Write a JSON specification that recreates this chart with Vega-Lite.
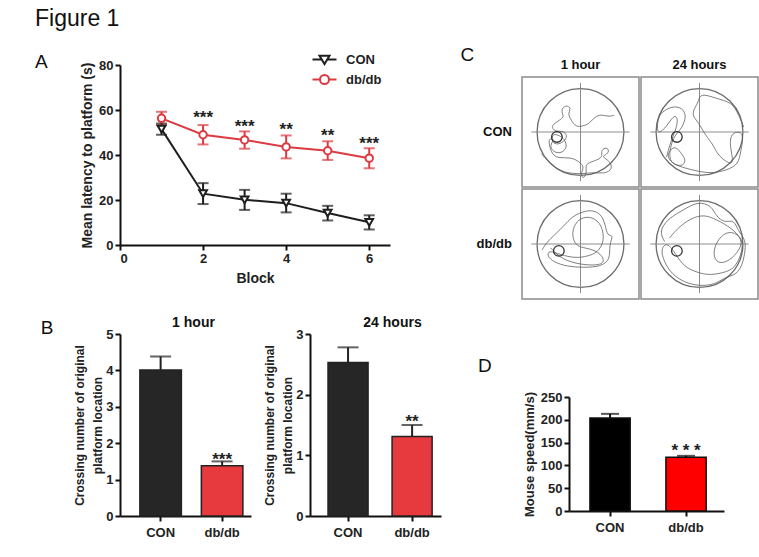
{
  "$schema": "https://vega.github.io/schema/vega-lite/v6.json",
  "background": "white",
  "padding": {"left": 35, "top": 8, "right": 0, "bottom": 0},
  "title": {"text": "Figure 1", "anchor": "start", "frame": "bounds", "fontSize": 23, "fontWeight": "normal", "font": "Liberation Sans", "color": "#111", "offset": 15},
  "config": {
    "font": "Liberation Sans",
    "view": {"stroke": null},
    "axis": {"domainColor": "#111", "domainWidth": 2, "tickColor": "#111", "tickWidth": 2, "tickSize": 5, "labelFont": "Liberation Sans", "labelFontSize": 12, "labelFontWeight": "bold", "labelColor": "#222", "labelOverlap": false, "titleFont": "Liberation Sans", "titleFontSize": 13, "titleFontWeight": "bold", "titleColor": "#222", "grid": false},
    "title": {"font": "Liberation Sans", "color": "#111"}
  },
  "datasets": {
    "latency": [
      {"block": 1, "group": "CON", "mean": 51.5, "lo": 49.0, "hi": 54.0},
      {"block": 2, "group": "CON", "mean": 22.8, "lo": 18.2, "hi": 27.5},
      {"block": 3, "group": "CON", "mean": 20.1, "lo": 15.6, "hi": 24.5},
      {"block": 4, "group": "CON", "mean": 18.6, "lo": 14.5, "hi": 22.8},
      {"block": 5, "group": "CON", "mean": 14.2, "lo": 10.9, "hi": 17.4},
      {"block": 6, "group": "CON", "mean": 10.1, "lo": 6.9, "hi": 13.2},
      {"block": 1, "group": "db/db", "mean": 56.3, "lo": 53.3, "hi": 59.2},
      {"block": 2, "group": "db/db", "mean": 49.0, "lo": 44.7, "hi": 53.3},
      {"block": 3, "group": "db/db", "mean": 46.7, "lo": 42.8, "hi": 50.5},
      {"block": 4, "group": "db/db", "mean": 43.6, "lo": 38.5, "hi": 48.7},
      {"block": 5, "group": "db/db", "mean": 41.9, "lo": 37.8, "hi": 46.1},
      {"block": 6, "group": "db/db", "mean": 38.6, "lo": 34.1, "hi": 43.0}
    ],
    "astars": [
      {"block": 2, "y": 56.5, "label": "***"},
      {"block": 3, "y": 52.5, "label": "***"},
      {"block": 4, "y": 51.0, "label": "**"},
      {"block": 5, "y": 48.5, "label": "**"},
      {"block": 6, "y": 45.0, "label": "***"}
    ],
    "b1": [{"group": "CON", "mean": 4.01, "hi": 4.38}, {"group": "db/db", "mean": 1.38, "hi": 1.5}],
    "b1s": [{"group": "db/db", "y": 1.54, "label": "***"}],
    "b2": [{"group": "CON", "mean": 2.53, "hi": 2.78}, {"group": "db/db", "mean": 1.31, "hi": 1.5}],
    "b2s": [{"group": "db/db", "y": 1.55, "label": "**"}],
    "speed": [{"group": "CON", "mean": 204, "hi": 213}, {"group": "db/db", "mean": 118, "hi": 121}],
    "speeds": [{"group": "db/db", "y": 131, "label": "* * *"}],
    "swim": [
      {"g": "CON", "t": "1 hour", "k": "a", "x": 0, "y": 0},
      {"g": "CON", "t": "24 hours", "k": "a", "x": 0, "y": 0},
      {"g": "db/db", "t": "1 hour", "k": "a", "x": 0, "y": 0},
      {"g": "db/db", "t": "24 hours", "k": "a", "x": 0, "y": 0},
      {"g": "CON", "t": "1 hour", "k": "c", "x": -1, "y": 0, "x2": 1, "y2": 0},
      {"g": "CON", "t": "1 hour", "k": "c", "x": 0, "y": -1, "x2": 0, "y2": 1},
      {"g": "CON", "t": "24 hours", "k": "c", "x": -1, "y": 0, "x2": 1, "y2": 0},
      {"g": "CON", "t": "24 hours", "k": "c", "x": 0, "y": -1, "x2": 0, "y2": 1},
      {"g": "db/db", "t": "1 hour", "k": "c", "x": -1, "y": 0, "x2": 1, "y2": 0},
      {"g": "db/db", "t": "1 hour", "k": "c", "x": 0, "y": -1, "x2": 0, "y2": 1},
      {"g": "db/db", "t": "24 hours", "k": "c", "x": -1, "y": 0, "x2": 1, "y2": 0},
      {"g": "db/db", "t": "24 hours", "k": "c", "x": 0, "y": -1, "x2": 0, "y2": 1},
      {"g": "CON", "t": "1 hour", "k": "f", "x": -0.48, "y": -0.1},
      {"g": "CON", "t": "24 hours", "k": "f", "x": -0.46, "y": -0.1},
      {"g": "db/db", "t": "1 hour", "k": "f", "x": -0.44, "y": -0.14},
      {"g": "db/db", "t": "24 hours", "k": "f", "x": -0.46, "y": -0.14},
      {"g": "CON", "t": "1 hour", "k": "p", "i": 1, "x": 0.69, "y": 0.34},
      {"g": "CON", "t": "1 hour", "k": "p", "i": 2, "x": 0.56, "y": 0.31},
      {"g": "CON", "t": "1 hour", "k": "p", "i": 3, "x": 0.42, "y": 0.36},
      {"g": "CON", "t": "1 hour", "k": "p", "i": 4, "x": 0.29, "y": 0.31},
      {"g": "CON", "t": "1 hour", "k": "p", "i": 5, "x": 0.18, "y": 0.17},
      {"g": "CON", "t": "1 hour", "k": "p", "i": 6, "x": 0.05, "y": 0.12},
      {"g": "CON", "t": "1 hour", "k": "p", "i": 7, "x": -0.09, "y": 0.1},
      {"g": "CON", "t": "1 hour", "k": "p", "i": 8, "x": -0.19, "y": 0.24},
      {"g": "CON", "t": "1 hour", "k": "p", "i": 9, "x": -0.26, "y": 0.37},
      {"g": "CON", "t": "1 hour", "k": "p", "i": 10, "x": -0.19, "y": 0.48},
      {"g": "CON", "t": "1 hour", "k": "p", "i": 11, "x": -0.26, "y": 0.54},
      {"g": "CON", "t": "1 hour", "k": "p", "i": 12, "x": -0.36, "y": 0.51},
      {"g": "CON", "t": "1 hour", "k": "p", "i": 13, "x": -0.39, "y": 0.41},
      {"g": "CON", "t": "1 hour", "k": "p", "i": 14, "x": -0.33, "y": 0.31},
      {"g": "CON", "t": "1 hour", "k": "p", "i": 15, "x": -0.43, "y": 0.24},
      {"g": "CON", "t": "1 hour", "k": "p", "i": 16, "x": -0.53, "y": 0.17},
      {"g": "CON", "t": "1 hour", "k": "p", "i": 17, "x": -0.6, "y": 0.1},
      {"g": "CON", "t": "1 hour", "k": "p", "i": 18, "x": -0.5, "y": 0.0},
      {"g": "CON", "t": "1 hour", "k": "p", "i": 19, "x": -0.36, "y": 0.03},
      {"g": "CON", "t": "1 hour", "k": "p", "i": 20, "x": -0.26, "y": -0.07},
      {"g": "CON", "t": "1 hour", "k": "p", "i": 21, "x": -0.33, "y": -0.2},
      {"g": "CON", "t": "1 hour", "k": "p", "i": 22, "x": -0.5, "y": -0.27},
      {"g": "CON", "t": "1 hour", "k": "p", "i": 23, "x": -0.6, "y": -0.17},
      {"g": "CON", "t": "1 hour", "k": "p", "i": 24, "x": -0.56, "y": -0.03},
      {"g": "CON", "t": "1 hour", "k": "p", "i": 25, "x": -0.43, "y": -0.07},
      {"g": "CON", "t": "1 hour", "k": "p", "i": 26, "x": -0.33, "y": -0.14},
      {"g": "CON", "t": "1 hour", "k": "p", "i": 27, "x": -0.26, "y": -0.31},
      {"g": "CON", "t": "1 hour", "k": "p", "i": 28, "x": -0.39, "y": -0.44},
      {"g": "CON", "t": "1 hour", "k": "p", "i": 29, "x": -0.56, "y": -0.41},
      {"g": "CON", "t": "1 hour", "k": "p", "i": 30, "x": -0.63, "y": -0.27},
      {"g": "CON", "t": "1 hour", "k": "p", "i": 31, "x": -0.53, "y": -0.17},
      {"g": "CON", "t": "1 hour", "k": "p", "i": 32, "x": -0.67, "y": -0.1},
      {"g": "CON", "t": "1 hour", "k": "p", "i": 33, "x": -0.6, "y": -0.44},
      {"g": "CON", "t": "1 hour", "k": "p", "i": 34, "x": -0.46, "y": -0.54},
      {"g": "CON", "t": "1 hour", "k": "p", "i": 35, "x": -0.19, "y": -0.51},
      {"g": "CON", "t": "1 hour", "k": "p", "i": 36, "x": -0.02, "y": -0.61},
      {"g": "CON", "t": "1 hour", "k": "p", "i": 37, "x": 0.08, "y": -0.71},
      {"g": "CON", "t": "1 hour", "k": "p", "i": 38, "x": 0.0, "y": -0.85},
      {"g": "CON", "t": "1 hour", "k": "p", "i": 39, "x": 0.05, "y": -0.97},
      {"g": "CON", "t": "1 hour", "k": "p", "i": 40, "x": 0.14, "y": -0.82},
      {"g": "CON", "t": "1 hour", "k": "p", "i": 41, "x": 0.08, "y": -0.65},
      {"g": "CON", "t": "1 hour", "k": "p", "i": 42, "x": 0.29, "y": -0.59},
      {"g": "CON", "t": "1 hour", "k": "p", "i": 43, "x": 0.46, "y": -0.51},
      {"g": "CON", "t": "1 hour", "k": "p", "i": 44, "x": 0.41, "y": -0.39},
      {"g": "CON", "t": "1 hour", "k": "p", "i": 45, "x": 0.5, "y": -0.31},
      {"g": "CON", "t": "1 hour", "k": "p", "i": 46, "x": 0.59, "y": -0.36},
      {"g": "CON", "t": "1 hour", "k": "p", "i": 47, "x": 0.54, "y": -0.46},
      {"g": "CON", "t": "1 hour", "k": "p", "i": 48, "x": 0.42, "y": -0.5},
      {"g": "CON", "t": "1 hour", "k": "p", "i": 49, "x": 0.59, "y": -0.58},
      {"g": "CON", "t": "1 hour", "k": "p", "i": 50, "x": 0.66, "y": -0.75},
      {"g": "CON", "t": "1 hour", "k": "p", "i": 51, "x": 0.5, "y": -0.85},
      {"g": "CON", "t": "1 hour", "k": "p", "i": 52, "x": 0.29, "y": -0.82},
      {"g": "CON", "t": "1 hour", "k": "p", "i": 53, "x": 0.08, "y": -0.85},
      {"g": "CON", "t": "1 hour", "k": "p", "i": 54, "x": -0.19, "y": -0.85},
      {"g": "CON", "t": "1 hour", "k": "p", "i": 55, "x": -0.46, "y": -0.78},
      {"g": "CON", "t": "1 hour", "k": "p", "i": 56, "x": -0.67, "y": -0.58},
      {"g": "CON", "t": "1 hour", "k": "p", "i": 57, "x": -0.8, "y": -0.44},
      {"g": "CON", "t": "24 hours", "k": "p", "i": 1, "x": 0.9, "y": 0.1},
      {"g": "CON", "t": "24 hours", "k": "p", "i": 2, "x": 0.76, "y": 0.44},
      {"g": "CON", "t": "24 hours", "k": "p", "i": 3, "x": 0.63, "y": 0.61},
      {"g": "CON", "t": "24 hours", "k": "p", "i": 4, "x": 0.35, "y": 0.68},
      {"g": "CON", "t": "24 hours", "k": "p", "i": 5, "x": 0.01, "y": 0.8},
      {"g": "CON", "t": "24 hours", "k": "p", "i": 6, "x": -0.02, "y": 0.61},
      {"g": "CON", "t": "24 hours", "k": "p", "i": 7, "x": -0.09, "y": 0.51},
      {"g": "CON", "t": "24 hours", "k": "p", "i": 8, "x": -0.16, "y": 0.34},
      {"g": "CON", "t": "24 hours", "k": "p", "i": 9, "x": -0.02, "y": 0.2},
      {"g": "CON", "t": "24 hours", "k": "p", "i": 10, "x": 0.12, "y": -0.07},
      {"g": "CON", "t": "24 hours", "k": "p", "i": 11, "x": 0.29, "y": -0.27},
      {"g": "CON", "t": "24 hours", "k": "p", "i": 12, "x": 0.35, "y": -0.44},
      {"g": "CON", "t": "24 hours", "k": "p", "i": 13, "x": 0.56, "y": -0.63},
      {"g": "CON", "t": "24 hours", "k": "p", "i": 14, "x": 0.71, "y": -0.65},
      {"g": "CON", "t": "24 hours", "k": "p", "i": 15, "x": 0.61, "y": -0.27},
      {"g": "CON", "t": "24 hours", "k": "p", "i": 16, "x": 0.64, "y": 0.0},
      {"g": "CON", "t": "24 hours", "k": "p", "i": 17, "x": 0.93, "y": 0.02},
      {"g": "CON", "t": "24 hours", "k": "p", "i": 18, "x": 0.83, "y": -0.41},
      {"g": "CON", "t": "24 hours", "k": "p", "i": 19, "x": 0.8, "y": -0.65},
      {"g": "CON", "t": "24 hours", "k": "p", "i": 20, "x": 0.56, "y": -0.78},
      {"g": "CON", "t": "24 hours", "k": "p", "i": 21, "x": 0.22, "y": -0.85},
      {"g": "CON", "t": "24 hours", "k": "p", "i": 22, "x": -0.12, "y": -0.78},
      {"g": "CON", "t": "24 hours", "k": "p", "i": 23, "x": -0.39, "y": -0.71},
      {"g": "CON", "t": "24 hours", "k": "p", "i": 24, "x": -0.6, "y": -0.61},
      {"g": "CON", "t": "24 hours", "k": "p", "i": 25, "x": -0.67, "y": -0.44},
      {"g": "CON", "t": "24 hours", "k": "p", "i": 26, "x": -0.5, "y": -0.27},
      {"g": "CON", "t": "24 hours", "k": "p", "i": 27, "x": -0.39, "y": -0.41},
      {"g": "CON", "t": "24 hours", "k": "p", "i": 28, "x": -0.26, "y": -0.58},
      {"g": "CON", "t": "24 hours", "k": "p", "i": 29, "x": -0.36, "y": -0.71},
      {"g": "CON", "t": "24 hours", "k": "p", "i": 30, "x": -0.56, "y": -0.65},
      {"g": "CON", "t": "24 hours", "k": "p", "i": 31, "x": -0.63, "y": -0.48},
      {"g": "CON", "t": "24 hours", "k": "p", "i": 32, "x": -0.54, "y": -0.1},
      {"g": "CON", "t": "24 hours", "k": "p", "i": 33, "x": -0.39, "y": 0.03},
      {"g": "CON", "t": "24 hours", "k": "p", "i": 34, "x": -0.27, "y": 0.27},
      {"g": "CON", "t": "24 hours", "k": "p", "i": 35, "x": -0.31, "y": 0.46},
      {"g": "CON", "t": "24 hours", "k": "p", "i": 36, "x": -0.5, "y": 0.54},
      {"g": "CON", "t": "24 hours", "k": "p", "i": 37, "x": -0.73, "y": 0.44},
      {"g": "CON", "t": "24 hours", "k": "p", "i": 38, "x": -0.84, "y": 0.31},
      {"g": "CON", "t": "24 hours", "k": "p", "i": 39, "x": -0.87, "y": 0.03},
      {"g": "CON", "t": "24 hours", "k": "p", "i": 40, "x": -0.8, "y": -0.03},
      {"g": "CON", "t": "24 hours", "k": "p", "i": 41, "x": -0.63, "y": 0.17},
      {"g": "CON", "t": "24 hours", "k": "p", "i": 42, "x": -0.5, "y": 0.37},
      {"g": "CON", "t": "24 hours", "k": "p", "i": 43, "x": -0.43, "y": 0.24},
      {"g": "CON", "t": "24 hours", "k": "p", "i": 44, "x": -0.5, "y": 0.0},
      {"g": "CON", "t": "24 hours", "k": "p", "i": 45, "x": -0.6, "y": -0.24},
      {"g": "CON", "t": "24 hours", "k": "p", "i": 46, "x": -0.67, "y": -0.51},
      {"g": "db/db", "t": "1 hour", "k": "p", "i": 1, "x": -0.78, "y": -0.12},
      {"g": "db/db", "t": "1 hour", "k": "p", "i": 2, "x": -0.68, "y": 0.05},
      {"g": "db/db", "t": "1 hour", "k": "p", "i": 3, "x": -0.41, "y": 0.29},
      {"g": "db/db", "t": "1 hour", "k": "p", "i": 4, "x": -0.2, "y": 0.53},
      {"g": "db/db", "t": "1 hour", "k": "p", "i": 5, "x": -0.03, "y": 0.63},
      {"g": "db/db", "t": "1 hour", "k": "p", "i": 6, "x": 0.2, "y": 0.7},
      {"g": "db/db", "t": "1 hour", "k": "p", "i": 7, "x": 0.41, "y": 0.63},
      {"g": "db/db", "t": "1 hour", "k": "p", "i": 8, "x": 0.51, "y": 0.39},
      {"g": "db/db", "t": "1 hour", "k": "p", "i": 9, "x": 0.54, "y": 0.16},
      {"g": "db/db", "t": "1 hour", "k": "p", "i": 10, "x": 0.68, "y": 0.19},
      {"g": "db/db", "t": "1 hour", "k": "p", "i": 11, "x": 0.58, "y": -0.01},
      {"g": "db/db", "t": "1 hour", "k": "p", "i": 12, "x": 0.61, "y": -0.32},
      {"g": "db/db", "t": "1 hour", "k": "p", "i": 13, "x": 0.41, "y": -0.46},
      {"g": "db/db", "t": "1 hour", "k": "p", "i": 14, "x": 0.07, "y": -0.48},
      {"g": "db/db", "t": "1 hour", "k": "p", "i": 15, "x": -0.27, "y": -0.46},
      {"g": "db/db", "t": "1 hour", "k": "p", "i": 16, "x": -0.54, "y": -0.37},
      {"g": "db/db", "t": "1 hour", "k": "p", "i": 17, "x": -0.68, "y": -0.25},
      {"g": "db/db", "t": "1 hour", "k": "p", "i": 18, "x": -0.65, "y": -0.12},
      {"g": "db/db", "t": "1 hour", "k": "p", "i": 19, "x": -0.41, "y": -0.22},
      {"g": "db/db", "t": "1 hour", "k": "p", "i": 20, "x": -0.1, "y": -0.29},
      {"g": "db/db", "t": "1 hour", "k": "p", "i": 21, "x": 0.14, "y": -0.25},
      {"g": "db/db", "t": "1 hour", "k": "p", "i": 22, "x": 0.34, "y": -0.18},
      {"g": "db/db", "t": "1 hour", "k": "p", "i": 23, "x": 0.49, "y": 0.05},
      {"g": "db/db", "t": "1 hour", "k": "p", "i": 24, "x": 0.44, "y": 0.39},
      {"g": "db/db", "t": "1 hour", "k": "p", "i": 25, "x": 0.24, "y": 0.56},
      {"g": "db/db", "t": "1 hour", "k": "p", "i": 26, "x": 0.0, "y": 0.54},
      {"g": "db/db", "t": "1 hour", "k": "p", "i": 27, "x": -0.15, "y": 0.36},
      {"g": "db/db", "t": "1 hour", "k": "p", "i": 28, "x": -0.17, "y": 0.12},
      {"g": "db/db", "t": "1 hour", "k": "p", "i": 29, "x": -0.07, "y": -0.05},
      {"g": "db/db", "t": "1 hour", "k": "p", "i": 30, "x": 0.1, "y": -0.08},
      {"g": "db/db", "t": "1 hour", "k": "p", "i": 31, "x": 0.37, "y": -0.15},
      {"g": "db/db", "t": "1 hour", "k": "p", "i": 32, "x": 0.51, "y": -0.35},
      {"g": "db/db", "t": "1 hour", "k": "p", "i": 33, "x": 0.37, "y": -0.44},
      {"g": "db/db", "t": "1 hour", "k": "p", "i": 34, "x": 0.0, "y": -0.42},
      {"g": "db/db", "t": "1 hour", "k": "p", "i": 35, "x": -0.37, "y": -0.32},
      {"g": "db/db", "t": "1 hour", "k": "p", "i": 36, "x": -0.61, "y": -0.08},
      {"g": "db/db", "t": "24 hours", "k": "p", "i": 1, "x": -0.71, "y": 0.05},
      {"g": "db/db", "t": "24 hours", "k": "p", "i": 2, "x": -0.82, "y": 0.26},
      {"g": "db/db", "t": "24 hours", "k": "p", "i": 3, "x": -0.65, "y": 0.5},
      {"g": "db/db", "t": "24 hours", "k": "p", "i": 4, "x": -0.44, "y": 0.63},
      {"g": "db/db", "t": "24 hours", "k": "p", "i": 5, "x": -0.27, "y": 0.73},
      {"g": "db/db", "t": "24 hours", "k": "p", "i": 6, "x": -0.03, "y": 0.86},
      {"g": "db/db", "t": "24 hours", "k": "p", "i": 7, "x": 0.24, "y": 0.79},
      {"g": "db/db", "t": "24 hours", "k": "p", "i": 8, "x": 0.34, "y": 0.56},
      {"g": "db/db", "t": "24 hours", "k": "p", "i": 9, "x": 0.51, "y": 0.43},
      {"g": "db/db", "t": "24 hours", "k": "p", "i": 10, "x": 0.71, "y": 0.5},
      {"g": "db/db", "t": "24 hours", "k": "p", "i": 11, "x": 0.78, "y": 0.26},
      {"g": "db/db", "t": "24 hours", "k": "p", "i": 12, "x": 0.95, "y": 0.09},
      {"g": "db/db", "t": "24 hours", "k": "p", "i": 13, "x": 0.92, "y": -0.22},
      {"g": "db/db", "t": "24 hours", "k": "p", "i": 14, "x": 0.85, "y": -0.49},
      {"g": "db/db", "t": "24 hours", "k": "p", "i": 15, "x": 0.71, "y": -0.64},
      {"g": "db/db", "t": "24 hours", "k": "p", "i": 16, "x": 0.51, "y": -0.68},
      {"g": "db/db", "t": "24 hours", "k": "p", "i": 17, "x": 0.31, "y": -0.83},
      {"g": "db/db", "t": "24 hours", "k": "p", "i": 18, "x": -0.03, "y": -0.86},
      {"g": "db/db", "t": "24 hours", "k": "p", "i": 19, "x": -0.37, "y": -0.76},
      {"g": "db/db", "t": "24 hours", "k": "p", "i": 20, "x": -0.61, "y": -0.56},
      {"g": "db/db", "t": "24 hours", "k": "p", "i": 21, "x": -0.75, "y": -0.29},
      {"g": "db/db", "t": "24 hours", "k": "p", "i": 22, "x": -0.78, "y": -0.08},
      {"g": "db/db", "t": "24 hours", "k": "p", "i": 23, "x": -0.65, "y": 0.04},
      {"g": "db/db", "t": "24 hours", "k": "p", "i": 24, "x": -0.48, "y": -0.22},
      {"g": "db/db", "t": "24 hours", "k": "p", "i": 25, "x": -0.31, "y": -0.46},
      {"g": "db/db", "t": "24 hours", "k": "p", "i": 26, "x": -0.1, "y": -0.56},
      {"g": "db/db", "t": "24 hours", "k": "p", "i": 27, "x": 0.17, "y": -0.64},
      {"g": "db/db", "t": "24 hours", "k": "p", "i": 28, "x": 0.48, "y": -0.59},
      {"g": "db/db", "t": "24 hours", "k": "p", "i": 29, "x": 0.75, "y": -0.49},
      {"g": "db/db", "t": "24 hours", "k": "p", "i": 30, "x": 0.92, "y": -0.01},
      {"g": "db/db", "t": "24 hours", "k": "p", "i": 31, "x": 0.78, "y": 0.22},
      {"g": "db/db", "t": "24 hours", "k": "p", "i": 32, "x": 0.54, "y": 0.26},
      {"g": "db/db", "t": "24 hours", "k": "p", "i": 33, "x": 0.34, "y": 0.05},
      {"g": "db/db", "t": "24 hours", "k": "p", "i": 34, "x": 0.27, "y": -0.22},
      {"g": "db/db", "t": "24 hours", "k": "p", "i": 35, "x": 0.37, "y": -0.41},
      {"g": "db/db", "t": "24 hours", "k": "p", "i": 36, "x": 0.61, "y": -0.35},
      {"g": "db/db", "t": "24 hours", "k": "p", "i": 37, "x": 0.82, "y": -0.12},
      {"g": "db/db", "t": "24 hours", "k": "p", "i": 38, "x": 0.88, "y": 0.09},
      {"g": "db/db", "t": "24 hours", "k": "p", "i": 39, "x": 0.65, "y": 0.33},
      {"g": "db/db", "t": "24 hours", "k": "p", "i": 40, "x": 0.34, "y": 0.5},
      {"g": "db/db", "t": "24 hours", "k": "p", "i": 41, "x": 0.1, "y": 0.6},
      {"g": "db/db", "t": "24 hours", "k": "p", "i": 42, "x": -0.17, "y": 0.53},
      {"g": "db/db", "t": "24 hours", "k": "p", "i": 43, "x": -0.44, "y": 0.33},
      {"g": "db/db", "t": "24 hours", "k": "p", "i": 44, "x": -0.61, "y": 0.12}
    ]
  },
  "spacing": 19,
  "resolve": {"scale": {"color": "independent"}},
  "hconcat": [
    {
      "spacing": 31,
      "resolve": {"scale": {"color": "independent"}},
      "vconcat": [
        {
          "width": 270,
          "height": 180,
          "title": {"text": "A", "anchor": "start", "frame": "group", "dx": -85, "offset": -34, "fontSize": 19, "fontWeight": "normal", "baseline": "alphabetic"},
          "data": {"name": "latency"},
          "encoding": {
            "x": {"field": "block", "type": "quantitative", "title": "Block", "scale": {"domain": [0, 6.5], "nice": false}, "axis": {"values": [0, 2, 4, 6], "format": "d", "labelFontSize": 13, "titleFontSize": 14, "titlePadding": 6}}
          },
          "layer": [
            {
              "mark": {"type": "line", "strokeWidth": 2},
              "encoding": {
                "y": {"field": "mean", "type": "quantitative", "title": "Mean latency to platform (s)", "scale": {"domain": [0, 80]}, "axis": {"values": [0, 20, 40, 60, 80], "format": "d", "labelFontSize": 13, "titleFontSize": 14}},
                "color": {"field": "group", "type": "nominal", "scale": {"domain": ["CON", "db/db"], "range": ["#1e1e1e", "#dc3a40"]},
                  "legend": {"orient": "none", "legendX": 198, "legendY": -12, "title": null, "padding": 0, "labelFont": "Liberation Sans", "labelFontSize": 13, "labelFontWeight": "bold", "labelColor": "#222", "labelOffset": 15, "symbolSize": 100, "symbolStrokeWidth": 2, "symbolFillColor": "white", "rowPadding": 3,
                    "encode": {"symbols": {"update": {"shape": {"signal": "datum.value === 'CON' ? 'M-2.4,0H-0.55M0.55,0H2.4M-1,-0.75L1,-0.75L0,0.9Z' : 'M-2.4,0H-0.9M0.9,0H2.4M0.9,0A0.9,0.9 0 1,1 -0.9,0A0.9,0.9 0 1,1 0.9,0Z'"}, "fill": {"value": "white"}, "fillOpacity": {"value": 0}, "strokeWidth": {"value": 2}}}}}}
              }
            },
            {
              "mark": {"type": "rule", "strokeWidth": 2},
              "encoding": {
                "y": {"field": "lo", "type": "quantitative", "title": "Mean latency to platform (s)", "scale": {"domain": [0, 80]}, "axis": {"values": [0, 20, 40, 60, 80], "format": "d", "labelFontSize": 13, "titleFontSize": 14}},
                "y2": {"field": "hi"},
                "color": {"field": "group", "type": "nominal", "legend": null}
              }
            },
            {
              "mark": {"type": "tick", "orient": "horizontal", "size": 11, "thickness": 2},
              "encoding": {
                "y": {"field": "lo", "type": "quantitative", "title": "Mean latency to platform (s)", "scale": {"domain": [0, 80]}, "axis": {"values": [0, 20, 40, 60, 80], "format": "d", "labelFontSize": 13, "titleFontSize": 14}},
                "color": {"field": "group", "type": "nominal", "legend": null}
              }
            },
            {
              "mark": {"type": "tick", "orient": "horizontal", "size": 11, "thickness": 2},
              "encoding": {
                "y": {"field": "hi", "type": "quantitative", "title": "Mean latency to platform (s)", "scale": {"domain": [0, 80]}, "axis": {"values": [0, 20, 40, 60, 80], "format": "d", "labelFontSize": 13, "titleFontSize": 14}},
                "color": {"field": "group", "type": "nominal", "legend": null}
              }
            },
            {
              "transform": [{"filter": "datum.group === 'CON'"}],
              "mark": {"type": "point", "shape": "triangle-down", "filled": true, "fill": "white", "stroke": "#1e1e1e", "strokeWidth": 2, "size": 60, "opacity": 1},
              "encoding": {
                "y": {"field": "mean", "type": "quantitative", "title": "Mean latency to platform (s)", "scale": {"domain": [0, 80]}, "axis": {"values": [0, 20, 40, 60, 80], "format": "d", "labelFontSize": 13, "titleFontSize": 14}}
              }
            },
            {
              "transform": [{"filter": "datum.group === 'db/db'"}],
              "mark": {"type": "point", "shape": "circle", "filled": true, "fill": "white", "stroke": "#dc3a40", "strokeWidth": 2, "size": 55, "opacity": 1},
              "encoding": {
                "y": {"field": "mean", "type": "quantitative", "title": "Mean latency to platform (s)", "scale": {"domain": [0, 80]}, "axis": {"values": [0, 20, 40, 60, 80], "format": "d", "labelFontSize": 13, "titleFontSize": 14}}
              }
            },
            {
              "data": {"name": "astars"},
              "mark": {"type": "text", "fontSize": 17, "fontWeight": "bold", "color": "#222", "baseline": "middle"},
              "encoding": {
                "y": {"field": "y", "type": "quantitative", "title": "Mean latency to platform (s)", "scale": {"domain": [0, 80]}, "axis": {"values": [0, 20, 40, 60, 80], "format": "d", "labelFontSize": 13, "titleFontSize": 14}},
                "text": {"field": "label"}
              }
            }
          ]
        },
        {
          "title": {"text": "B", "anchor": "start", "frame": "bounds", "fontSize": 19, "fontWeight": "normal", "offset": -37, "dx": -33, "baseline": "alphabetic"},
          "spacing": 12,
          "resolve": {"scale": {"color": "independent"}},
          "hconcat": [
            {
              "width": 131,
              "height": 182,
              "title": {"text": "1 hour", "fontSize": 14, "fontWeight": "bold", "anchor": "middle", "dx": 8, "offset": -2},
              "data": {"name": "b1"},
              "encoding": {
                "x": {"field": "group", "type": "nominal", "title": null, "scale": {"domain": ["CON", "db/db"], "paddingInner": 0.325, "paddingOuter": 0.2275, "align": 0.71}, "axis": {"labelAngle": 0, "labelPadding": 5, "labelFontSize": 13}}
              },
              "layer": [
                {
                  "mark": {"type": "bar", "stroke": "#222", "strokeWidth": 1.5},
                  "encoding": {
                    "y": {"field": "mean", "type": "quantitative", "title": ["Crossing number of original", "platform location"], "scale": {"domain": [0, 5]}, "axis": {"values": [0, 1, 2, 3, 4, 5], "format": "d", "labelFontSize": 13, "titleFontSize": 12, "titleLineHeight": 18, "titlePadding": 1}},
                    "color": {"field": "group", "type": "nominal", "scale": {"domain": ["CON", "db/db"], "range": ["#262626", "#e63a3e"]}, "legend": null}
                  }
                },
                {
                  "mark": {"type": "rule", "color": "#222", "strokeWidth": 2},
                  "encoding": {"y": {"field": "mean", "type": "quantitative", "title": ["Crossing number of original", "platform location"], "scale": {"domain": [0, 5]}, "axis": {"values": [0, 1, 2, 3, 4, 5], "format": "d", "labelFontSize": 13, "titleFontSize": 12, "titleLineHeight": 18, "titlePadding": 1}}, "y2": {"field": "hi"}}
                },
                {
                  "mark": {"type": "tick", "orient": "horizontal", "size": 21, "thickness": 2, "color": "#222"},
                  "encoding": {"y": {"field": "hi", "type": "quantitative", "title": ["Crossing number of original", "platform location"], "scale": {"domain": [0, 5]}, "axis": {"values": [0, 1, 2, 3, 4, 5], "format": "d", "labelFontSize": 13, "titleFontSize": 12, "titleLineHeight": 18, "titlePadding": 1}}}
                },
                {
                  "data": {"name": "b1s"},
                  "mark": {"type": "text", "fontSize": 17, "fontWeight": "bold", "color": "#222", "baseline": "middle"},
                  "encoding": {"y": {"field": "y", "type": "quantitative", "title": ["Crossing number of original", "platform location"], "scale": {"domain": [0, 5]}, "axis": {"values": [0, 1, 2, 3, 4, 5], "format": "d", "labelFontSize": 13, "titleFontSize": 12, "titleLineHeight": 18, "titlePadding": 1}}, "text": {"field": "label"}}
                }
              ]
            },
            {
              "width": 131,
              "height": 182,
              "title": {"text": "24 hours", "fontSize": 14, "fontWeight": "bold", "anchor": "middle", "dx": 17, "offset": -2},
              "data": {"name": "b2"},
              "encoding": {
                "x": {"field": "group", "type": "nominal", "title": null, "scale": {"domain": ["CON", "db/db"], "paddingInner": 0.375, "paddingOuter": 0.21, "align": 0.67}, "axis": {"labelAngle": 0, "labelPadding": 5, "labelFontSize": 13}}
              },
              "layer": [
                {
                  "mark": {"type": "bar", "stroke": "#222", "strokeWidth": 1.5},
                  "encoding": {
                    "y": {"field": "mean", "type": "quantitative", "title": ["Crossing number of original", "platform location"], "scale": {"domain": [0, 3]}, "axis": {"values": [0, 1, 2, 3], "format": "d", "labelFontSize": 13, "titleFontSize": 12, "titleLineHeight": 18, "titlePadding": 1}},
                    "color": {"field": "group", "type": "nominal", "scale": {"domain": ["CON", "db/db"], "range": ["#262626", "#e63a3e"]}, "legend": null}
                  }
                },
                {
                  "mark": {"type": "rule", "color": "#222", "strokeWidth": 2},
                  "encoding": {"y": {"field": "mean", "type": "quantitative", "title": ["Crossing number of original", "platform location"], "scale": {"domain": [0, 3]}, "axis": {"values": [0, 1, 2, 3], "format": "d", "labelFontSize": 13, "titleFontSize": 12, "titleLineHeight": 18, "titlePadding": 1}}, "y2": {"field": "hi"}}
                },
                {
                  "mark": {"type": "tick", "orient": "horizontal", "size": 21, "thickness": 2, "color": "#222"},
                  "encoding": {"y": {"field": "hi", "type": "quantitative", "title": ["Crossing number of original", "platform location"], "scale": {"domain": [0, 3]}, "axis": {"values": [0, 1, 2, 3], "format": "d", "labelFontSize": 13, "titleFontSize": 12, "titleLineHeight": 18, "titlePadding": 1}}}
                },
                {
                  "data": {"name": "b2s"},
                  "mark": {"type": "text", "fontSize": 17, "fontWeight": "bold", "color": "#222", "baseline": "middle"},
                  "encoding": {"y": {"field": "y", "type": "quantitative", "title": ["Crossing number of original", "platform location"], "scale": {"domain": [0, 3]}, "axis": {"values": [0, 1, 2, 3], "format": "d", "labelFontSize": 13, "titleFontSize": 12, "titleLineHeight": 18, "titlePadding": 1}}, "text": {"field": "label"}}
                }
              ]
            }
          ]
        }
      ]
    },
    {
      "spacing": -20,
      "resolve": {"scale": {"color": "independent"}},
      "vconcat": [
        {"width": 1, "height": 1, "data": {"values": []}, "mark": "point", "encoding": {}},
        {
          "spacing": 57,
          "resolve": {"scale": {"color": "independent"}},
          "vconcat": [
            {
              "data": {"name": "swim"},
              "title": {"text": "C", "anchor": "start", "frame": "bounds", "fontSize": 19, "fontWeight": "normal", "dx": -16, "offset": -6},
              "spacing": 0,
              "facet": {
                "column": {"field": "t", "type": "nominal", "sort": ["1 hour", "24 hours"], "header": {"title": null, "labelFontSize": 13, "labelFontWeight": "bold", "labelFont": "Liberation Sans", "labelColor": "#111", "labelPadding": 4}},
                "row": {"field": "g", "type": "nominal", "sort": ["CON", "db/db"], "header": {"title": null, "labelAngle": 0, "labelAlign": "left", "labelBaseline": "middle", "labelOrient": "left", "labelFontSize": 13, "labelFontWeight": "bold", "labelFont": "Liberation Sans", "labelColor": "#111", "labelPadding": 9}}
              },
              "spec": {
                "width": 117,
                "height": 110,
                "view": {"stroke": "#8a8a8a", "strokeWidth": 1.5},
                "layer": [
                  {
                    "transform": [{"filter": "datum.k === 'a'"}],
                    "mark": {"type": "point", "shape": "circle", "size": 7543, "filled": false, "stroke": "#6b6b6b", "strokeWidth": 1.3, "opacity": 1},
                    "encoding": {
                      "x": {"field": "x", "type": "quantitative", "scale": {"domain": [-1.19, 1.19], "nice": false, "zero": false}, "axis": null},
                      "y": {"field": "y", "type": "quantitative", "scale": {"domain": [-1.12, 1.12], "nice": false, "zero": false}, "axis": null}
                    }
                  },
                  {
                    "transform": [{"filter": "datum.k === 'c'"}],
                    "mark": {"type": "rule", "stroke": "#8c8c8c", "strokeWidth": 1},
                    "encoding": {
                      "x": {"field": "x", "type": "quantitative"},
                      "y": {"field": "y", "type": "quantitative"},
                      "x2": {"field": "x2"},
                      "y2": {"field": "y2"}
                    }
                  },
                  {
                    "transform": [{"filter": "datum.k === 'p'"}],
                    "mark": {"type": "line", "stroke": "#5f5f5f", "strokeWidth": 0.8, "interpolate": "basis"},
                    "encoding": {
                      "x": {"field": "x", "type": "quantitative"},
                      "y": {"field": "y", "type": "quantitative"},
                      "order": {"field": "i", "type": "quantitative"}
                    }
                  },
                  {
                    "transform": [{"filter": "datum.k === 'f'"}],
                    "mark": {"type": "point", "shape": "circle", "size": 113, "filled": false, "stroke": "#333", "strokeWidth": 1.3, "opacity": 1},
                    "encoding": {
                      "x": {"field": "x", "type": "quantitative"},
                      "y": {"field": "y", "type": "quantitative"}
                    }
                  }
                ]
              }
            },
            {
              "spacing": 0,
              "resolve": {"scale": {"color": "independent"}},
              "hconcat": [
                {"width": 1, "height": 1, "data": {"values": []}, "mark": "point", "encoding": {},
                  "title": {"text": "D", "anchor": "start", "frame": "group", "dx": -44, "offset": 21, "fontSize": 19, "fontWeight": "normal"}},
                {
                  "width": 155,
                  "height": 114,
                  "data": {"name": "speed"},
                  "encoding": {
                    "x": {"field": "group", "type": "nominal", "title": null, "scale": {"domain": ["CON", "db/db"], "paddingInner": 0.47, "paddingOuter": 0.255, "align": 0.54}, "axis": {"labelAngle": 0, "labelPadding": 5, "labelFontSize": 13}}
                  },
                  "layer": [
                    {
                      "mark": {"type": "bar", "stroke": "#111", "strokeWidth": 1.5},
                      "encoding": {
                        "y": {"field": "mean", "type": "quantitative", "title": "Mouse speed(mm/s)", "scale": {"domain": [0, 250]}, "axis": {"values": [0, 50, 100, 150, 200, 250], "format": "d", "labelFontSize": 13}},
                        "color": {"field": "group", "type": "nominal", "scale": {"domain": ["CON", "db/db"], "range": ["#000000", "#ff0000"]}, "legend": null}
                      }
                    },
                    {
                      "mark": {"type": "rule", "color": "#111", "strokeWidth": 2},
                      "encoding": {"y": {"field": "mean", "type": "quantitative", "title": "Mouse speed(mm/s)", "scale": {"domain": [0, 250]}, "axis": {"values": [0, 50, 100, 150, 200, 250], "format": "d", "labelFontSize": 13}}, "y2": {"field": "hi"}}
                    },
                    {
                      "mark": {"type": "tick", "orient": "horizontal", "size": 18, "thickness": 2, "color": "#111"},
                      "encoding": {"y": {"field": "hi", "type": "quantitative", "title": "Mouse speed(mm/s)", "scale": {"domain": [0, 250]}, "axis": {"values": [0, 50, 100, 150, 200, 250], "format": "d", "labelFontSize": 13}}}
                    },
                    {
                      "data": {"name": "speeds"},
                      "mark": {"type": "text", "fontSize": 17, "fontWeight": "bold", "color": "#222", "baseline": "middle"},
                      "encoding": {"y": {"field": "y", "type": "quantitative", "title": "Mouse speed(mm/s)", "scale": {"domain": [0, 250]}, "axis": {"values": [0, 50, 100, 150, 200, 250], "format": "d", "labelFontSize": 13}}, "text": {"field": "label"}}
                    }
                  ]
                }
              ]
            }
          ]
        }
      ]
    }
  ]
}
